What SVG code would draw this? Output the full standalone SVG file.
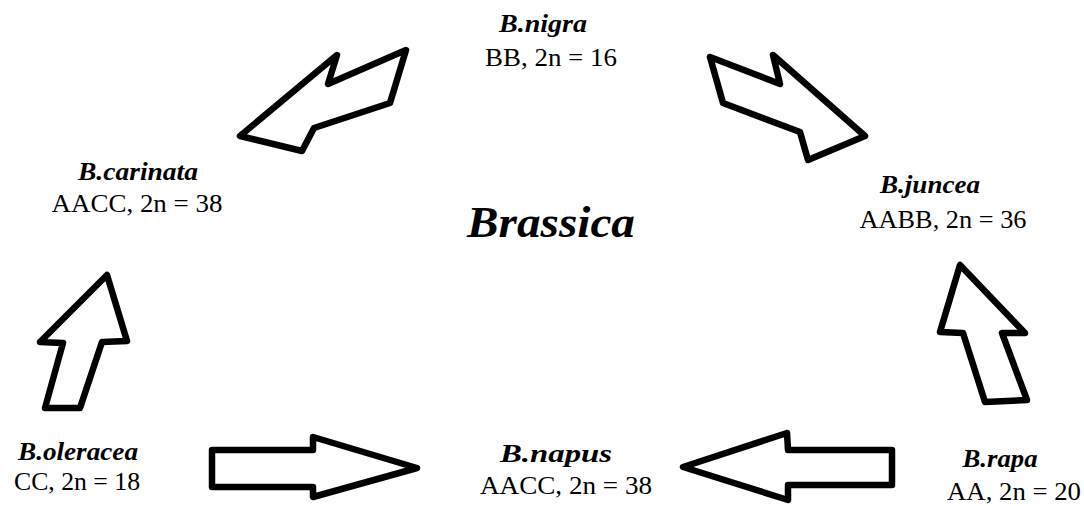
<svg xmlns="http://www.w3.org/2000/svg" width="1084" height="506" viewBox="0 0 1084 506">
<style>
.arr{fill:#fff;stroke:#000;stroke-width:6.5;stroke-linejoin:round}
.name{font-family:"Liberation Serif",serif;font-weight:bold;font-style:italic;font-size:25px;text-anchor:middle;fill:#000}
.gen{font-family:"Liberation Serif",serif;font-size:25px;text-anchor:middle;fill:#000}
.title{font-family:"Liberation Serif",serif;font-weight:bold;font-style:italic;font-size:44px;text-anchor:middle;fill:#000}
</style>
<rect width="1084" height="506" fill="#fff"/>
<g id="connectors">
<polygon class="arr" points="240,136 302,151 314,128 390,103 406,50 328,84 337,55"/>
<polygon class="arr" points="710,57 780,84 773,55 865,136 808,160 800,132 723,103"/>
<polygon class="arr" points="107,275 127,341 102,342 80,408 45,408 63,343 40,342"/>
<polygon class="arr" points="960,265 940,332 963,333 985,402 1027,400 1002,333 1025,333"/>
<polygon class="arr" points="212,450 313,450 313,437 417,468 313,497 313,487 212,487"/>
<polygon class="arr" points="892,450 788,450 787,433 683,467 788,500 788,485 892,485"/>
</g>
<g id="nigra"><text class="name" x="543" y="32" textLength="88" lengthAdjust="spacingAndGlyphs">B.nigra</text><text class="gen" x="551" y="66" textLength="132" lengthAdjust="spacingAndGlyphs">BB, 2n = 16</text></g>
<g id="carinata"><text class="name" x="138" y="180" textLength="120" lengthAdjust="spacingAndGlyphs">B.carinata</text><text class="gen" x="137" y="212" textLength="171" lengthAdjust="spacingAndGlyphs">AACC, 2n = 38</text></g>
<g id="juncea"><text class="name" x="930" y="193" textLength="100" lengthAdjust="spacingAndGlyphs">B.juncea</text><text class="gen" x="943" y="228" textLength="167" lengthAdjust="spacingAndGlyphs">AABB, 2n = 36</text></g>
<g id="brassica"><text class="title" x="551" y="237" textLength="168" lengthAdjust="spacingAndGlyphs">Brassica</text></g>
<g id="oleracea"><text class="name" x="78" y="460" textLength="120" lengthAdjust="spacingAndGlyphs">B.oleracea</text><text class="gen" x="77" y="490" textLength="126" lengthAdjust="spacingAndGlyphs">CC, 2n = 18</text></g>
<g id="napus"><text class="name" x="556" y="462" textLength="112" lengthAdjust="spacingAndGlyphs">B.napus</text><text class="gen" x="566" y="494" textLength="172" lengthAdjust="spacingAndGlyphs">AACC, 2n = 38</text></g>
<g id="rapa"><text class="name" x="1000" y="467" textLength="75" lengthAdjust="spacingAndGlyphs">B.rapa</text><text class="gen" x="1014" y="500" textLength="134" lengthAdjust="spacingAndGlyphs">AA, 2n = 20</text></g>
</svg>
